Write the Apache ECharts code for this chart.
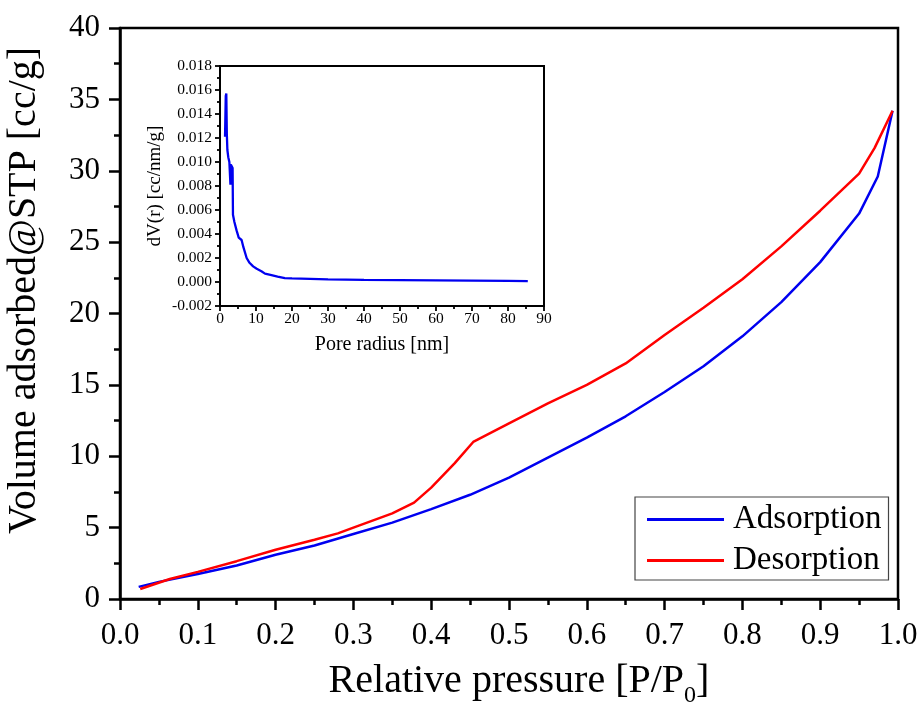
<!DOCTYPE html>
<html><head><meta charset="utf-8">
<script src="https://cdn.jsdelivr.net/npm/echarts@6/dist/echarts.min.js"></script>
<style>html,body{margin:0;padding:0;background:#fff}#c{width:921px;height:708px}</style>
</head><body><div id="c"></div><script>
// Main chart: nitrogen isotherm
const adsP = [0.024, 0.05, 0.1, 0.15, 0.2, 0.25, 0.3, 0.35, 0.4, 0.45, 0.5, 0.55, 0.6, 0.65, 0.7, 0.75, 0.8, 0.85, 0.9, 0.95, 0.974, 0.993];
const adsV = [0.85, 1.2, 1.75, 2.35, 3.1, 3.75, 4.55, 5.35, 6.3, 7.3, 8.5, 9.9, 11.3, 12.8, 14.5, 16.3, 18.4, 20.8, 23.6, 27.0, 29.6, 34.2];
const desP = [0.026, 0.064, 0.1, 0.15, 0.2, 0.25, 0.28, 0.3, 0.35, 0.378, 0.4, 0.43, 0.454, 0.5, 0.55, 0.6, 0.65, 0.7, 0.75, 0.8, 0.85, 0.9, 0.95, 0.97, 0.993];
const desV = [0.7, 1.4, 1.9, 2.65, 3.45, 4.15, 4.6, 5.0, 6.0, 6.75, 7.8, 9.5, 11.0, 12.3, 13.7, 15.0, 16.5, 18.5, 20.4, 22.4, 24.7, 27.2, 29.8, 31.6, 34.2];
// Inset: pore size distribution
const poreR = [1.4, 1.6, 1.75, 1.9, 2.05, 2.3, 2.6, 2.9, 3.0, 3.25, 3.5, 3.6, 4.0, 4.6, 5.2, 6.0, 6.5, 7.4, 8.2, 9.2, 10.2, 11.5, 12.5, 14, 16, 18, 20, 25, 30, 35, 40, 50, 60, 70, 80, 85.5];
const poreDV = [0.0121, 0.0155, 0.0157, 0.0123, 0.0110, 0.0104, 0.0100, 0.0081, 0.0098, 0.0097, 0.0095, 0.0056, 0.0050, 0.0043, 0.0037, 0.0035, 0.0029, 0.0020, 0.0016, 0.0013, 0.0011, 0.0009, 0.0007, 0.0006, 0.00045, 0.00032, 0.0003, 0.00026, 0.00022, 0.0002, 0.00018, 0.00016, 0.00014, 0.00012, 0.0001, 0.00008];

const seriesNames = ['Adsorption', 'Desorption'];
const FONT = '"Liberation Serif", "Times New Roman", serif';
const BLUE = '#0000f0', RED = '#ff0000';

const chart = echarts.init(document.getElementById('c'), null, {renderer: 'canvas'});
const axisCommon = (lw, tickLen, minorLen, fs, margin) => ({
  axisLine: {show: true, onZero: false, lineStyle: {color: '#000', width: lw}},
  axisTick: {show: true, inside: false, length: tickLen, lineStyle: {color: '#000', width: lw}},
  minorTick: {show: true, splitNumber: 2, length: minorLen, lineStyle: {color: '#000', width: lw}},
  splitLine: {show: false},
  axisLabel: {color: '#000', fontFamily: FONT, fontSize: fs, margin: margin}
});

const option = {
  backgroundColor: '#fff',
  animation: false,
  grid: [
    {left: 120, right: 23, top: 28, bottom: 109, show: true, borderColor: '#000', borderWidth: 2.5, backgroundColor: '#fff',
     containLabel: false, outerBoundsMode: 'none'},
    {left: 220, top: 66, width: 324, height: 240, show: true, borderColor: '#000', borderWidth: 2, backgroundColor: '#fff',
     containLabel: false, outerBoundsMode: 'none'}
  ],
  legend: {
    data: seriesNames,
    orient: 'vertical',
    left: 635, top: 497,
    padding: [6, 7, 3, 12],
    itemGap: 8,
    itemWidth: 77, itemHeight: 3,
    icon: 'rect',
    borderColor: '#444', borderWidth: 1.2,
    backgroundColor: '#fff',
    textStyle: {fontFamily: FONT, fontSize: 33, color: '#000', padding: [0, 0, 0, 4]}
  },
  xAxis: [
    Object.assign(axisCommon(2.5, 11, 6, 31, 21), {
      type: 'value', gridIndex: 0, min: 0, max: 1, interval: 0.1,
      name: 'Relative pressure [P/P{s|0}]', nameLocation: 'middle', nameGap: 55,
      nameTextStyle: {fontFamily: FONT, fontSize: 40, color: '#000', padding: [0, 0, 0, 20],
        rich: {s: {fontFamily: FONT, fontSize: 24, color: '#000', padding: [30, 0, 0, 0]}}},
      axisLabel: {color: '#000', fontFamily: FONT, fontSize: 31, margin: 21, formatter: v => v.toFixed(1)}
    }),
    Object.assign(axisCommon(1.8, 5, 3, 15.5, 5), {
      type: 'value', gridIndex: 1, min: 0, max: 90, interval: 10,
      name: 'Pore radius [nm]', nameLocation: 'middle', nameGap: 29,
      nameTextStyle: {fontFamily: FONT, fontSize: 20, color: '#000'}
    })
  ],
  yAxis: [
    Object.assign(axisCommon(2.5, 11, 6, 31, 20), {
      type: 'value', gridIndex: 0, min: 0, max: 40, interval: 5,
      name: 'Volume adsorbed@STP [cc/g]', nameLocation: 'middle', nameGap: 76,
      nameTextStyle: {fontFamily: FONT, fontSize: 40, color: '#000', padding: [0, 0, 0, 46]}
    }),
    Object.assign(axisCommon(1.8, 5, 3, 15.5, 8), {
      type: 'value', gridIndex: 1, min: -0.002, max: 0.018, interval: 0.002,
      name: 'dV(r) [cc/nm/g]', nameLocation: 'middle', nameGap: 55,
      nameTextStyle: {fontFamily: FONT, fontSize: 19, color: '#000'},
      axisLabel: {color: '#000', fontFamily: FONT, fontSize: 15.5, margin: 8, formatter: v => v.toFixed(3)}
    })
  ],
  series: [
    {name: seriesNames[0], type: 'line', xAxisIndex: 0, yAxisIndex: 0, symbol: 'none', smooth: false,
     itemStyle: {color: BLUE}, lineStyle: {color: BLUE, width: 2.5},
     data: adsP.map((p, i) => [p, adsV[i]])},
    {name: seriesNames[1], type: 'line', xAxisIndex: 0, yAxisIndex: 0, symbol: 'none', smooth: false,
     itemStyle: {color: RED}, lineStyle: {color: RED, width: 2.5},
     data: desP.map((p, i) => [p, desV[i]])},
    {name: 'PSD', type: 'line', xAxisIndex: 1, yAxisIndex: 1, symbol: 'none', smooth: false,
     itemStyle: {color: BLUE}, lineStyle: {color: BLUE, width: 2.3},
     data: poreR.map((r, i) => [r, poreDV[i]])}
  ]
};
chart.setOption(option);
</script></body></html>
